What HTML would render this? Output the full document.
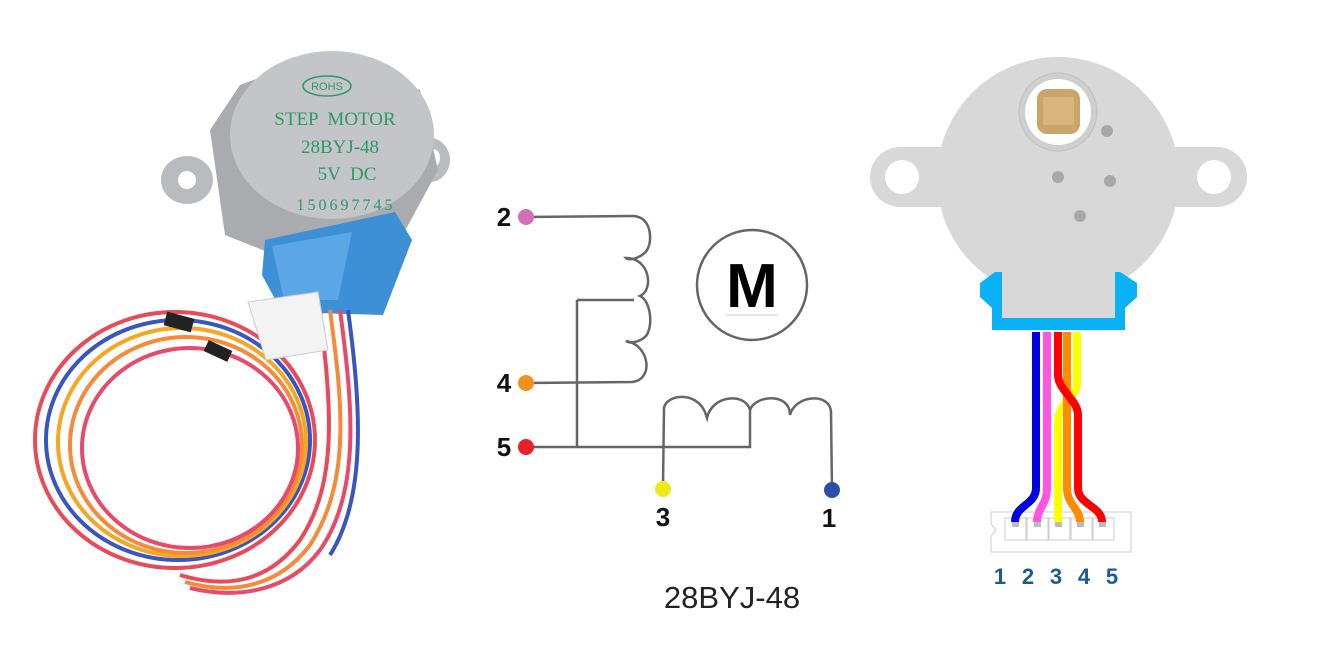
<!DOCTYPE html>
<html><head><meta charset="utf-8"><style>
html,body{margin:0;padding:0;background:#fff;}
svg{display:block;}
</style></head><body>
<svg width="1323" height="651" viewBox="0 0 1323 651" xmlns="http://www.w3.org/2000/svg">
<!-- LEFT PHOTO approximation -->
<g>
  <ellipse cx="187" cy="180" rx="26" ry="24" fill="#b9bbbe"/>
  <ellipse cx="187" cy="180" rx="9" ry="9" fill="#fff"/>
  <ellipse cx="430" cy="160" rx="20" ry="22" fill="#b9bbbe"/>
  <ellipse cx="433" cy="158" rx="7" ry="9" fill="#fff"/>
  <path d="M210,130 L240,85 L320,55 L420,90 L438,170 L400,240 L300,265 L225,235 Z" fill="#a9abae"/>
  <ellipse cx="332" cy="135" rx="102" ry="84" fill="#c3c5c8"/>
  <ellipse cx="327" cy="86" rx="24" ry="10" fill="none" stroke="#2e9a66" stroke-width="1.5"/>
  <text x="327" y="90" font-family="Liberation Sans, sans-serif" font-size="11" fill="#2e9a66" text-anchor="middle">ROHS</text>
  <g font-family="Liberation Serif, serif" fill="#2e9a66" font-size="19" text-anchor="middle">
    <text x="335" y="125" xml:space="preserve">STEP  MOTOR</text>
    <text x="340" y="153">28BYJ-48</text>
    <text x="347" y="180" xml:space="preserve">5V  DC</text>
    <text x="346" y="210" font-size="16" letter-spacing="3">150697745</text>
  </g>
  <!-- blue housing -->
  <path d="M265,240 L395,212 L412,240 L383,315 L282,312 L262,275 Z" fill="#3d8fd6"/>
  <path d="M272,246 L352,232 L338,300 L284,300 Z" fill="#5aa6e6"/>
  <!-- wire loop -->
  <g fill="none" stroke-width="4">
    <ellipse cx="175" cy="440" rx="140" ry="128" stroke="#e84a5a"/>
    <ellipse cx="178" cy="440" rx="132" ry="120" stroke="#3a55c0"/>
    <ellipse cx="182" cy="442" rx="124" ry="114" stroke="#f5a623"/>
    <ellipse cx="186" cy="445" rx="116" ry="108" stroke="#f58a3a"/>
    <ellipse cx="190" cy="448" rx="108" ry="100" stroke="#e84a6a"/>
    <path d="M320,310 C330,400 340,480 300,540 C270,580 230,590 180,575" stroke="#e84a5a"/>
    <path d="M330,310 C342,400 352,480 310,545 C280,585 235,596 185,582" stroke="#f58a3a"/>
    <path d="M340,310 C352,400 362,490 320,550 C290,590 240,600 190,588" stroke="#e84a6a"/>
    <path d="M348,310 C360,400 368,495 330,555" stroke="#3a55c0"/>
  </g>
  <path d="M248,302 L318,292 L328,350 L266,360 Z" fill="#f3f3f3" stroke="#ccc"/>
  <rect x="165" y="315" width="28" height="14" fill="#222" transform="rotate(15 179 322)"/>
  <rect x="205" y="345" width="26" height="12" fill="#222" transform="rotate(25 218 351)"/>
</g>

<!-- SCHEMATIC -->
<g fill="none" stroke="#666" stroke-width="2.5">
  <path d="M526,217 L632,216 C652,216 652,240 648,248 C645,256 630,262 626,258 C650,258 654,290 640,296 C650,300 654,325 646,336 C640,342 630,344 626,341 C650,345 654,380 632,382 L526,383"/>
  <path d="M577,300 L634,300"/>
  <path d="M577,300 L577,447"/>
  <path d="M526,447 L750,447 L750,410"/>
  <path d="M663,487 L664,408 C666,395 695,390 705,412 L707,418 C712,395 745,392 750,410 C755,395 790,392 790,415 C795,395 830,392 831,412 L832,490"/>
  <circle cx="752" cy="285" r="55"/>
</g>
<line x1="725" y1="315" x2="778" y2="315" stroke="#ccc" stroke-width="1"/>
<text x="752" y="307" font-family="Liberation Sans, sans-serif" font-weight="bold" font-size="62" text-anchor="middle" fill="#000">M</text>
<circle cx="526" cy="217" r="8" fill="#d36fb5"/>
<circle cx="526" cy="383" r="8" fill="#f5901e"/>
<circle cx="526" cy="447" r="8" fill="#e8202a"/>
<circle cx="663" cy="489" r="8" fill="#ece81a"/>
<circle cx="832" cy="490" r="8" fill="#2d4fa6"/>
<g font-family="Liberation Sans, sans-serif" font-weight="bold" font-size="26" fill="#111" text-anchor="middle">
  <text x="504" y="226">2</text>
  <text x="504" y="392">4</text>
  <text x="504" y="456">5</text>
  <text x="663" y="526">3</text>
  <text x="829" y="527">1</text>
</g>
<text x="732" y="608" font-family="Liberation Sans, sans-serif" font-size="31" fill="#222" text-anchor="middle">28BYJ-48</text>

<!-- RIGHT DIAGRAM -->
<g>
  <rect x="870" y="147" width="377" height="60" rx="30" fill="#d8d8d8"/>
  <circle cx="1058" cy="178" r="121" fill="#d8d8d8"/>
  <circle cx="902" cy="177" r="17" fill="#fff"/>
  <circle cx="1214" cy="177" r="17" fill="#fff"/>
  <circle cx="1058" cy="112" r="39" fill="#cfcfcf" stroke="#c0c0c0"/>
  <circle cx="1058" cy="112" r="33" fill="#fff"/>
  <rect x="1037" y="89" width="43" height="45" rx="10" fill="#c9a46b"/>
  <rect x="1043" y="97" width="31" height="28" fill="#d8b57c"/>
  <circle cx="1107" cy="131" r="6" fill="#a8a8a8"/>
  <circle cx="1058" cy="177" r="6" fill="#a8a8a8"/>
  <circle cx="1110" cy="181" r="6" fill="#a8a8a8"/>
  <circle cx="1080" cy="216" r="6" fill="#a8a8a8"/>
  <path d="M980,283 L995,272 L1120,272 L1137,283 L1137,297 L1125,308 L1125,330 L992,330 L992,308 L980,297 Z" fill="#0bb1f5"/>
  <path d="M1002,270 L1115,270 L1115,318 L1002,318 Z" fill="#d8d8d8"/>
  <!-- connector -->
  <path d="M991,512 L1131,512 L1131,552 L991,552 L991,536 L996,530 L991,524 Z" fill="#fff" stroke="#ccc"/>
  <g fill="#fff" stroke="#ccc">
    <rect x="1005" y="518" width="21" height="22"/><rect x="1027" y="518" width="21" height="22"/>
    <rect x="1049" y="518" width="21" height="22"/><rect x="1071" y="518" width="21" height="22"/>
    <rect x="1093" y="518" width="21" height="22"/>
  </g>
  <!-- wires -->
  <g fill="none" stroke-width="8" stroke-linecap="butt">
    <path d="M1036,332 L1036,488 C1036,505 1015,505 1015,522" stroke="#0000e0"/>
    <path d="M1047,332 L1047,488 C1047,505 1037,508 1037,522" stroke="#ff55e0"/>
    <path d="M1077,332 L1077,385 C1077,395 1058,405 1058,420 L1058,522" stroke="#ffff00"/>
    <path d="M1067,332 L1067,488 C1067,505 1080,508 1080,522" stroke="#ff8c00"/>
    <path d="M1058,332 L1058,375 C1058,390 1078,400 1078,415 L1078,488 C1078,505 1102,506 1102,522" stroke="#ff0000"/>
  </g>
  <g fill="#bbb">
    <rect x="1012" y="522" width="7" height="5"/><rect x="1034" y="522" width="7" height="5"/>
    <rect x="1055" y="522" width="7" height="5"/><rect x="1077" y="522" width="7" height="5"/>
    <rect x="1099" y="522" width="7" height="5"/>
  </g>
  <g font-family="Liberation Sans, sans-serif" font-weight="bold" font-size="22" fill="#1a5a9a" text-anchor="middle">
    <text x="1000" y="584">1</text><text x="1028" y="584">2</text><text x="1056" y="584">3</text>
    <text x="1084" y="584">4</text><text x="1112" y="584">5</text>
  </g>
</g>
</svg>
</body></html>
